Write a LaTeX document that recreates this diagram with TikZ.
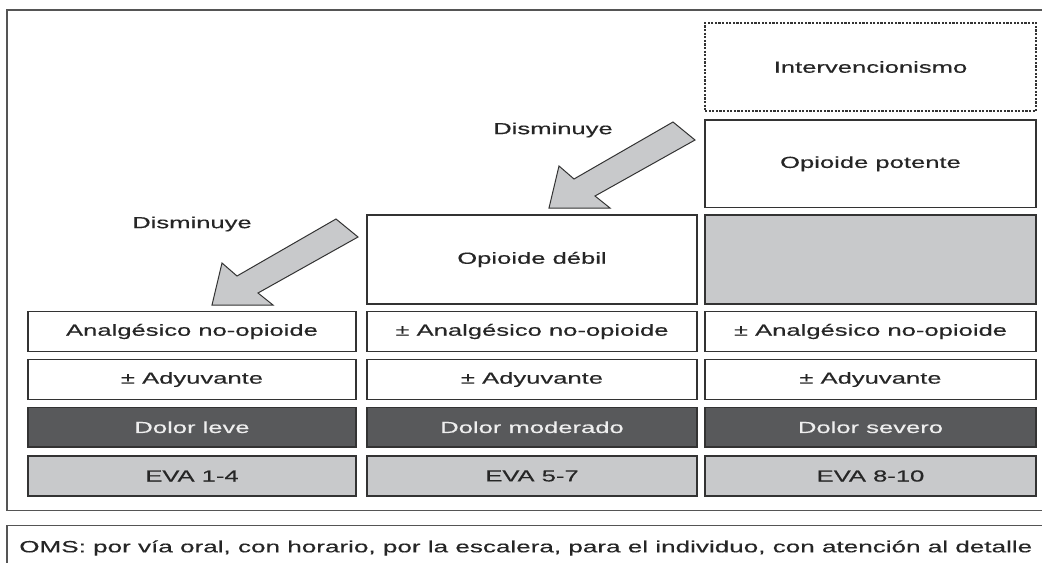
\documentclass[tikz,border=0pt]{standalone}
\usepackage{fontspec}
\usepackage{graphicx}
\setmainfont[FakeStretch=1.6,FakeBold=0.35]{Liberation Sans}
\definecolor{linec}{HTML}{333333}
\definecolor{framec}{HTML}{555555}
\definecolor{txt}{HTML}{262626}
\definecolor{darkf}{HTML}{58595B}
\definecolor{lightf}{HTML}{C8C9CB}
\definecolor{dtxt}{HTML}{EEEEEE}
\newcommand{\fsz}{\fontsize{12}{14}\selectfont}
\newcommand{\fszb}{\fontsize{13}{15}\selectfont}
\begin{document}
\begin{tikzpicture}[x=0.75pt,y=-0.75pt,
  box/.style={draw=linec, line width=1.05pt, fill=white, text=txt, inner sep=0pt, font=\fsz},
  wh/.style 2 args={minimum width=#1*0.75pt, minimum height=#2*0.75pt},
  graybox/.style={box, fill=lightf},
  darkbox/.style={box, fill=darkf, text=dtxt},
  dashbox/.style={box, line width=0.9pt, dash pattern=on 1.6pt off 1.1pt},
  frame/.style={draw=framec, line width=1.1pt},
  lbl/.style={text=txt, inner sep=0pt, font=\fsz},
  bigarrow/.style={draw=linec, line width=0.75pt, fill=lightf, line join=miter}]
\useasboundingbox (0,0) rectangle (1042,562);
\clip (0,0) rectangle (1042,562);
\fill[white] (0,0) rectangle (1042,562);

% frames
\draw[frame] (7,10) rectangle (1070,510.5);
\draw[frame] (7,525.5) rectangle (1070,590);

% column 3 top
\node[dashbox, wh={331}{88}] (interv) at (870.5,67) {Intervencionismo};
\node[box, wh={331}{87.5}] (potente) at (870.5,163.75) {Opioide potente};
\node[graybox, wh={331}{89}] (gray3) at (870.5,259.5) {};
% column 2 top
\node[box, wh={330}{89}] (debil) at (532,259.5) {Opioide débil};

% analgesic row
\node[box, wh={328}{39.5}] (an1) at (192,331.5) {Analgésico no-opioide};
\node[box, wh={330}{39.5}] (an2) at (532,331.5) {± Analgésico no-opioide};
\node[box, wh={331}{39.5}] (an3) at (870.5,331.5) {± Analgésico no-opioide};
% adjuvant row
\node[box, wh={328}{40}] (ad1) at (192,379.5) {± Adyuvante};
\node[box, wh={330}{40}] (ad2) at (532,379.5) {± Adyuvante};
\node[box, wh={331}{40}] (ad3) at (870.5,379.5) {± Adyuvante};
% pain row
\node[darkbox, wh={328}{39.5}] (do1) at (192,427.25) {Dolor leve};
\node[darkbox, wh={330}{39.5}] (do2) at (532,427.25) {Dolor moderado};
\node[darkbox, wh={331}{39.5}] (do3) at (870.5,427.25) {Dolor severo};
% EVA row
\node[graybox, wh={328}{40}] (ev1) at (192,476) {EVA 1-4};
\node[graybox, wh={330}{40}] (ev2) at (532,476) {EVA 5-7};
\node[graybox, wh={331}{40}] (ev3) at (870.5,476) {EVA 8-10};

% labels
\node[lbl] (dis1) at (192,224) {Disminuye};
\node[lbl] (dis2) at (553,130) {Disminuye};

% block arrows
\draw[bigarrow] (336,219) -- (358,237) -- (258,293) -- (273,305) -- (212,305) -- (222,263) -- (237,276) -- cycle;
\draw[bigarrow] (673,122) -- (695,140) -- (595,196) -- (610,208) -- (549,208) -- (559,166) -- (574,179) -- cycle;

% footer
\node[lbl, anchor=west] (oms) at (19,548) {\resizebox{759.75pt}{!}{\fszb OMS: por vía oral, con horario, por la escalera, para el individuo, con atención al detalle}};
\end{tikzpicture}
\end{document}
